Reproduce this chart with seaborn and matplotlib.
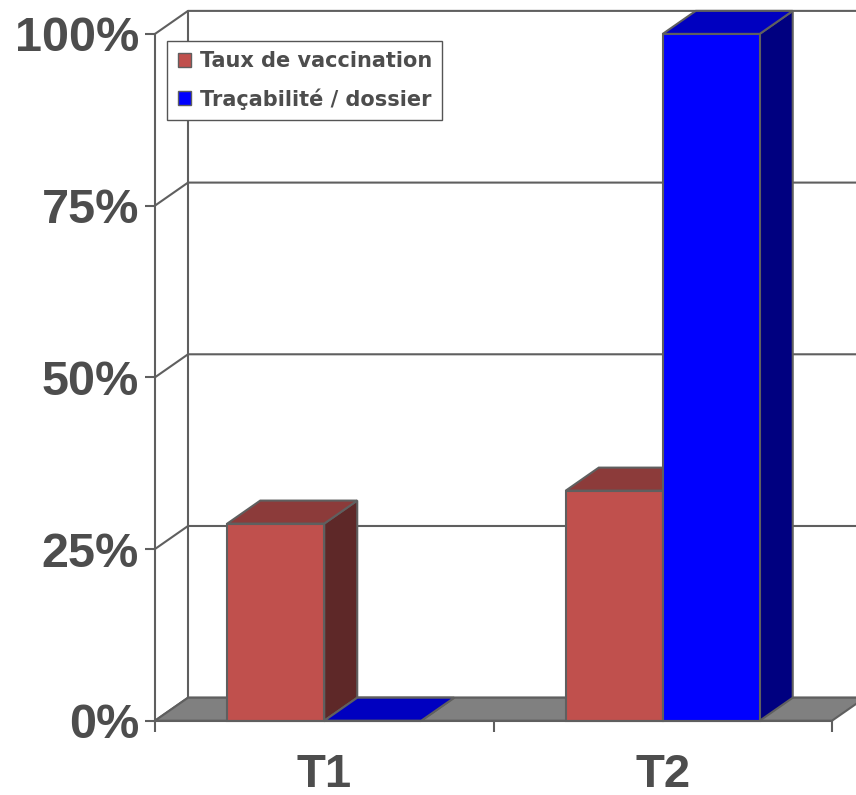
import matplotlib
matplotlib.use('Agg')
import matplotlib.pyplot as plt
import pandas as pd
import seaborn as sns
from matplotlib.patches import Polygon, Patch
from matplotlib.ticker import FixedLocator

""" Data """
periods = ['T1', 'T2']
series = ['Taux de vaccination', 'Traçabilité / dossier']
vaccination = [28.7, 33.5]
tracabilite = [0, 100]
y_ticks = [0, 25, 50, 75, 100]
y_tick_labels = ['0%', '25%', '50%', '75%', '100%']

front_colors = ['#C0504D', '#0000FF']
top_colors = ['#8C3B3A', '#0000C0']
side_colors = ['#5E2828', '#000080']
line_col = '#5f5f5f'
text_col = '#4d4d4d'

df = pd.DataFrame({
    'period': periods * 2,
    'series': [series[0]] * len(periods) + [series[1]] * len(periods),
    'value': vaccination + tracabilite,
})

sns.set_style('white')
plt.rcParams['font.family'] = ['Liberation Sans', 'DejaVu Sans']
plt.rcParams['font.weight'] = 'bold'

fig = plt.figure(figsize=(8.56, 7.95), dpi=100)
ax = fig.add_axes([155 / 856, 1 - 720.7 / 795, 677 / 856, 686.8 / 795])
ax.patch.set_alpha(0)

sns.barplot(data=df, x='period', y='value', hue='series', hue_order=series,
            palette=front_colors, saturation=1, width=0.573, gap=0,
            edgecolor=line_col, linewidth=1.5, legend=False, ax=ax)
ax.set_xlim(-0.5, 1.5)
ax.set_ylim(0, 100)
ax.set_xlabel('')
ax.set_ylabel('')

# depth of the fake 3D (data units)
dx, dy = 0.0975, 3.35

# back wall gridlines + left connectors
for v in y_ticks:
    ax.plot([-0.5, -0.5 + dx, 2.0], [v, v + dy, v + dy], color=line_col,
            lw=1.5, zorder=0.5, clip_on=False)
ax.plot([-0.5 + dx, -0.5 + dx], [dy, 100 + dy], color=line_col, lw=1.5,
        zorder=0.5, clip_on=False)

# floor
floor = Polygon([(-0.5, 0), (1.5, 0), (1.5 + dx, dy), (-0.5 + dx, dy)],
                closed=True, fc='#808080', ec=line_col, lw=1.5, zorder=1,
                clip_on=False)
ax.add_patch(floor)

# tops and sides of the bars
for i, cont in enumerate(ax.containers):
    for bar in cont:
        x0 = bar.get_x()
        x1 = x0 + bar.get_width()
        h = bar.get_height()
        top = Polygon([(x0, h), (x1, h), (x1 + dx, h + dy), (x0 + dx, h + dy)],
                      closed=True, fc=top_colors[i], ec=line_col, lw=1.5,
                      zorder=2 + i, clip_on=False)
        side = Polygon([(x1, 0), (x1 + dx, dy), (x1 + dx, h + dy), (x1, h)],
                       closed=True, fc=side_colors[i], ec=line_col, lw=1.5,
                       zorder=2 + i, clip_on=False)
        ax.add_patch(side)
        ax.add_patch(top)
        bar.set_zorder(2.5 + i)
        bar.set_clip_on(False)

# axes
for s in ['top', 'right']:
    ax.spines[s].set_visible(False)
for s in ['left', 'bottom']:
    ax.spines[s].set_color(line_col)
    ax.spines[s].set_linewidth(1.5)
    ax.spines[s].set_zorder(5)

ax.set_yticks(y_ticks, labels=y_tick_labels)
ax.tick_params(axis='y', left=True, length=7, width=1.5, color=line_col,
               pad=4.5, labelsize=35, labelcolor=text_col)
ax.set_xticks(range(len(periods)), labels=periods)
ax.xaxis.set_minor_locator(FixedLocator([-0.5, 0.5, 1.5]))
ax.tick_params(axis='x', which='major', bottom=True, length=0, pad=23,
               labelsize=34, labelcolor=text_col)
ax.tick_params(axis='x', which='minor', bottom=True, length=8, width=1.5,
               color=line_col)

# legend
handles = [Patch(fc=c, ec=line_col, lw=1) for c in front_colors]
leg = ax.legend(handles, series, loc='upper left',
                bbox_to_anchor=(167.3 / 856, 1 - 41 / 795),
                bbox_transform=fig.transFigure, borderaxespad=0,
                prop={'family': 'DejaVu Sans', 'weight': 'bold', 'size': 15},
                frameon=True, fancybox=False, framealpha=1,
                handlelength=0.63, handleheight=0.63, handletextpad=0.42,
                borderpad=0.5, labelspacing=0.8)
leg.get_frame().set_edgecolor('#555555')
leg.get_frame().set_linewidth(1.0)
leg.set_zorder(10)
for t in leg.get_texts():
    t.set_color(text_col)

fig.savefig('out.png', dpi=100)
